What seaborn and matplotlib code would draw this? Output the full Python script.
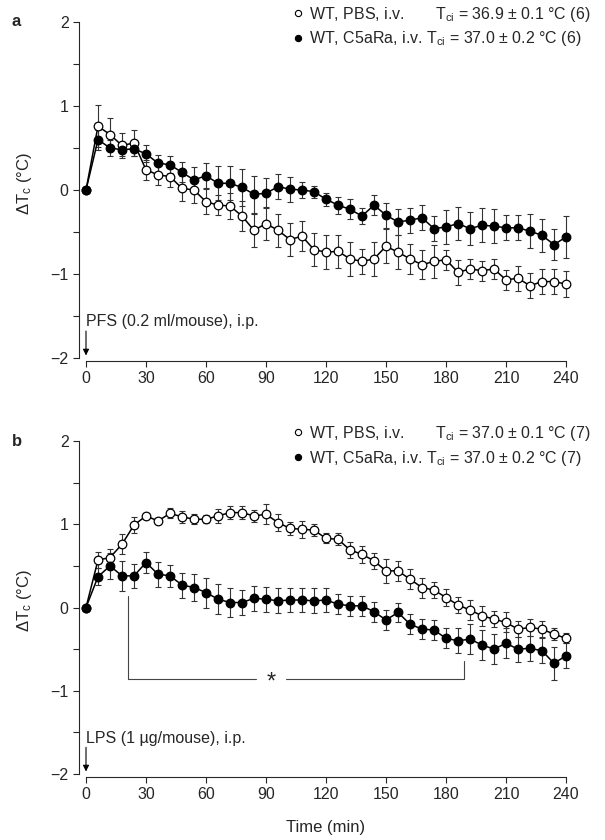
import matplotlib
matplotlib.use('Agg')
import matplotlib.pyplot as plt
import seaborn as sns
import numpy as np
import pandas as pd
from matplotlib.lines import Line2D

# time points (min)
times = [0, 6, 12, 18, 24, 30, 36, 42, 48, 54, 60, 66, 72, 78, 84, 90, 96, 102,
         108, 114, 120, 126, 132, 138, 144, 150, 156, 162, 168, 174, 180, 186,
         192, 198, 204, 210, 216, 222, 228, 234, 240]

# panel a: PFS
a_pbs = [0, .76, .66, .53, .56, .24, .18, .16, .02, 0, -.14, -.18, -.19, -.31, -.48,
         -.40, -.48, -.59, -.55, -.71, -.74, -.73, -.82, -.85, -.82, -.67, -.74, -.82,
         -.89, -.85, -.83, -.98, -.94, -.96, -.94, -1.07, -1.05, -1.14, -1.09, -1.09, -1.12]
a_pbs_err = [0, .25, .20, .15, .15, .12, .12, .12, .15, .15, .15, .12, .15, .18, .20,
             .20, .20, .20, .18, .20, .20, .20, .20, .15, .20, .20, .20, .18, .17, .20,
             .12, .15, .12, .12, .12, .12, .15, .15, .15, .15, .15]
a_c5 = [0, .60, .50, .48, .49, .43, .32, .30, .21, .12, .17, .08, .08, .03, -.05,
        -.04, .04, .01, 0, -.02, -.11, -.18, -.23, -.31, -.18, -.30, -.38, -.36, -.33,
        -.46, -.44, -.40, -.46, -.42, -.43, -.45, -.45, -.49, -.54, -.65, -.56]
a_c5_err = [0, .12, .10, .08, .08, .10, .10, .10, .12, .15, .15, .20, .20, .22, .22,
            .18, .15, .15, .10, .07, .08, .10, .12, .10, .12, .15, .15, .15, .15, .15,
            .20, .20, .20, .20, .20, .15, .15, .20, .20, .18, .25]

# panel b: LPS
b_pbs = [0, .57, .60, .76, .99, 1.10, 1.04, 1.13, 1.09, 1.06, 1.06, 1.10, 1.14, 1.14,
         1.10, 1.12, 1.02, .95, .94, .93, .83, .82, .69, .64, .56, .44, .44, .34, .24,
         .21, .12, .03, -.03, -.10, -.14, -.18, -.26, -.24, -.26, -.32, -.37]
b_pbs_err = [0, .10, .10, .12, .10, .04, .04, .06, .07, .06, .05, .08, .08, .08, .07,
             .12, .10, .08, .10, .07, .06, .07, .10, .10, .10, .14, .12, .12, .12, .10,
             .10, .10, .12, .12, .10, .12, .10, .10, .10, .07, .06]
b_c5 = [0, .37, .50, .38, .38, .54, .40, .38, .27, .24, .18, .10, .06, .06, .11, .10,
        .08, .09, .09, .08, .09, .04, .02, .02, -.05, -.15, -.06, -.20, -.26, -.27,
        -.37, -.40, -.38, -.45, -.50, -.43, -.50, -.49, -.52, -.67, -.58]
b_c5_err = [0, .10, .16, .18, .14, .13, .15, .13, .15, .16, .18, .18, .18, .15, .15,
            .15, .15, .15, .15, .15, .15, .12, .12, .12, .12, .12, .12, .12, .12, .12,
            .12, .15, .18, .18, .18, .18, .15, .15, .15, .20, .15]

groups = ['WT, PBS, i.v.', 'WT, C5aRa, i.v.']
tci_a = ['36.9 ± 0.1 °C (6)', '37.0 ± 0.2 °C (6)']
tci_b = ['37.0 ± 0.1 °C (7)', '37.0 ± 0.2 °C (7)']

sns.set_style('ticks')
plt.rcParams['font.family'] = ['Liberation Sans', 'DejaVu Sans']
plt.rcParams['mathtext.fontset'] = 'custom'
plt.rcParams['mathtext.rm'] = 'Liberation Sans'
plt.rcParams['mathtext.it'] = 'Liberation Sans:italic'
plt.rcParams['font.size'] = 10.5

fig = plt.figure(figsize=(6.05, 8.4), dpi=100)
ax_a = fig.add_axes([86/605, 1-358/840, 480/605, 336/840])
ax_b = fig.add_axes([86/605, 1-774/840, 480/605, 333/840])


def panel(ax, pbs, pbs_err, c5, c5_err, tci, note, letter):
    df = pd.DataFrame({'time': times * 2, 'dT': pbs + c5,
                       'err': pbs_err + c5_err,
                       'group': [groups[0]] * len(times) + [groups[1]] * len(times)})
    for g in groups:
        d = df[df.group == g]
        ax.errorbar(d.time, d.dT, yerr=d.err, fmt='none', ecolor='#333333',
                    elinewidth=0.8, capsize=2.3, capthick=0.8, clip_on=False, zorder=2)
    for g, face in zip(groups, ['white', 'black']):
        d = df[df.group == g]
        sns.lineplot(data=d, x='time', y='dT', ax=ax, color='black', lw=1.1,
                     marker='o', markersize=6.2, markerfacecolor=face,
                     markeredgecolor='black', markeredgewidth=0.9,
                     clip_on=False, zorder=3, legend=False)
    ax.set_xlim(0, 240)
    ax.set_ylim(-2, 2)
    ax.set_xticks(range(0, 241, 30))
    ax.set_yticks([-2, -1, 0, 1, 2])
    ax.set_yticks([-1.5, -0.5, 0.5, 1.5], minor=True)
    ax.tick_params(axis='both', which='both', length=4, width=0.8, labelsize=11.5)
    ax.set_xlabel('')
    ax.set_ylabel(r'$\Delta$T$_{\mathrm{c}}$ (°C)', fontsize=12)
    ax.yaxis.set_label_coords(-0.108, 0.52)
    sns.despine(ax=ax, offset={'left': 5, 'bottom': 2})
    for s in ['left', 'bottom']:
        ax.spines[s].set_linewidth(0.8)

    handles = [Line2D([], [], ls='none', marker='o', ms=4.5, mfc=f, mec='black', mew=0.8)
               for f in ['white', 'black']]
    labels = [groups[0] + '       T$_{\\mathrm{ci}}$ = ' + tci[0],
              groups[1] + ' T$_{\\mathrm{ci}}$ = ' + tci[1]]
    ax.legend(handles, labels, loc='upper left', bbox_to_anchor=(0.415, 1.075),
              frameon=False, borderpad=0, handlelength=0.6, handletextpad=0.4,
              labelspacing=0.35, fontsize=11.5)

    ax.annotate('', xy=(0, -1.97), xytext=(0, -1.68),
                arrowprops=dict(arrowstyle='-|>', color='black', lw=0.8,
                                mutation_scale=9, shrinkA=0, shrinkB=0))
    ax.text(0, -1.57, note, ha='left', va='center', fontsize=11.5)
    fig.text(12/605, ax.get_position().y1, letter, fontsize=12, weight='bold',
             ha='left', va='center')


panel(ax_a, a_pbs, a_pbs_err, a_c5, a_c5_err, tci_a, 'PFS (0.2 ml/mouse), i.p.', 'a')
panel(ax_b, b_pbs, b_pbs_err, b_c5, b_c5_err, tci_b, 'LPS (1 µg/mouse), i.p.', 'b')

# significance bracket, panel b
ax_b.plot([21, 21, 85], [0.14, -0.86, -0.86], color='#444444', lw=0.8)
ax_b.plot([100, 189, 189], [-0.86, -0.86, -0.64], color='#444444', lw=0.8)
ax_b.text(92.5, -0.9, '*', ha='center', va='center', fontsize=17)

ax_b.set_xlabel('Time (min)', fontsize=12, labelpad=13)

fig.savefig('out.png', dpi=100)
